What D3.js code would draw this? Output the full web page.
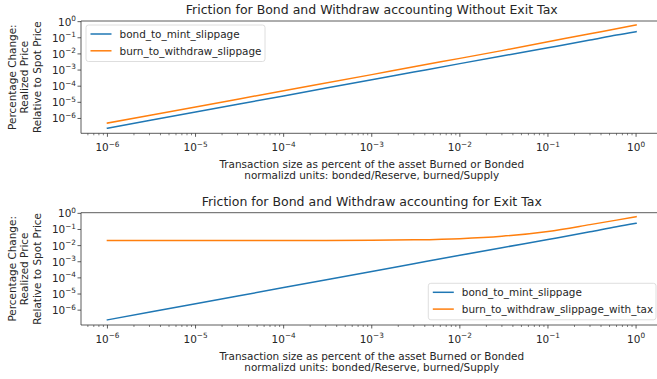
<!DOCTYPE html>
<html>
<head>
<meta charset="utf-8">
<script src="https://cdn.jsdelivr.net/npm/d3@7"></script>
<style>
  html, body { margin: 0; padding: 0; background: #fff; }
  svg { display: block; font-family: "DejaVu Sans", sans-serif; }
</style>
</head>
<body>
<svg id="chart" width="657" height="379"></svg>
<script>
// Transaction sizes (fraction of the asset burned or bonded)
const sizes = [1e-6, 1e-5, 1e-4, 1e-3, 3e-3, 1e-2, 3e-2, 1e-1, 3e-1, 6e-1, 1];
// Slippage series
const bondToMint = [2.5e-7, 2.5e-6, 2.5e-5, 2.5e-4, 7.5e-4, 2.5e-3, 7.4e-3, 0.024, 0.072, 0.15, 0.24];
const burnToWithdraw = [5.2e-7, 5.2e-6, 5.2e-5, 5.2e-4, 1.6e-3, 5.3e-3, 0.016, 0.056, 0.18, 0.36, 0.62];
const burnToWithdrawTax = [0.021, 0.021, 0.021, 0.0213, 0.0228, 0.027, 0.038, 0.076, 0.2, 0.38, 0.62];
// Tick exponents
const xTickExps = [-6, -5, -4, -3, -2, -1, 0];
const yTickExps = [0, -1, -2, -3, -4, -5, -6];

const titles = [
  "Friction for Bond and Withdraw accounting Without Exit Tax",
  "Friction for Bond and Withdraw accounting for Exit Tax"
];
const legendLabels = [
  ["bond_to_mint_slippage", "burn_to_withdraw_slippage"],
  ["bond_to_mint_slippage", "burn_to_withdraw_slippage_with_tax"]
];
const xLabelLines = [
  "Transaction size as percent of the asset Burned or Bonded",
  "normalizd units: bonded/Reserve, burned/Supply"
];
const yLabelLines = ["Percentage Change:", "Realized Price", "Relative to Spot Price"];

const BLUE = "#1f77b4", ORANGE = "#ff7f0e";
const FS = 10.45, FS_SUP = 7.3, FS_TITLE = 12.5;
const svg = d3.select("#chart");

const left = 81, right = 662.5, axH = 112.3;
const panels = [
  { top: 21, series: [bondToMint, burnToWithdraw], legend: { x: 86, y: 25, w: 179 } },
  { top: 212.7, series: [bondToMint, burnToWithdrawTax], legend: { x: 428.3, y: 283.3, w: 227.7 } }
];

const minus = "\u2212";

panels.forEach((p, i) => {
  const bottom = p.top + axH;
  const x = d3.scaleLog().domain([Math.pow(10, -6.3), Math.pow(10, 0.3)]).range([left, right]);
  const y = d3.scaleLog().domain([Math.pow(10, -6.92), Math.pow(10, 0.04)]).range([bottom, p.top]);
  const g = svg.append("g");

  // Lines
  const line = d3.line().x((d, k) => x(sizes[k])).y(d => y(d)).curve(d3.curveMonotoneX);
  p.series.forEach((vals, s) => {
    g.append("path").datum(vals)
      .attr("d", line)
      .attr("fill", "none")
      .attr("stroke", s === 0 ? BLUE : ORANGE)
      .attr("stroke-width", 1.5)
      .attr("stroke-linecap", "square");
  });

  // Spines (left, bottom, top; right edge lies outside the view)
  g.append("line").attr("x1", left).attr("x2", left).attr("y1", p.top).attr("y2", bottom)
    .attr("stroke", "#333").attr("stroke-width", 0.8);
  g.append("line").attr("x1", left).attr("x2", right).attr("y1", bottom).attr("y2", bottom)
    .attr("stroke", "#333").attr("stroke-width", 0.8);
  g.append("line").attr("x1", left).attr("x2", right).attr("y1", p.top).attr("y2", p.top)
    .attr("stroke", "#333").attr("stroke-width", 0.8);

  // X ticks: majors and log minors
  const minors = [];
  for (let e = -7; e <= 0; e++) for (let m = 2; m <= 9; m++) {
    const v = m * Math.pow(10, e);
    if (v >= x.domain()[0] && v <= x.domain()[1]) minors.push(v);
  }
  g.selectAll(null).data(minors).enter().append("line")
    .attr("x1", d => x(d)).attr("x2", d => x(d))
    .attr("y1", bottom).attr("y2", bottom + 2)
    .attr("stroke", "#333").attr("stroke-width", 0.6);
  g.selectAll(null).data(xTickExps).enter().append("line")
    .attr("x1", d => x(Math.pow(10, d))).attr("x2", d => x(Math.pow(10, d)))
    .attr("y1", bottom).attr("y2", bottom + 3.5)
    .attr("stroke", "#333").attr("stroke-width", 0.8);
  const xt = g.selectAll(null).data(xTickExps).enter().append("text")
    .attr("x", d => x(Math.pow(10, d)))
    .attr("y", bottom + 18)
    .attr("text-anchor", "middle")
    .attr("font-size", FS).attr("fill", "#262626");
  xt.append("tspan").text("10");
  xt.append("tspan").attr("dy", -4.6).attr("font-size", FS_SUP)
    .text(d => d === 0 ? "0" : minus + Math.abs(d));

  // Y ticks
  g.selectAll(null).data(yTickExps).enter().append("line")
    .attr("x1", left - 3.5).attr("x2", left)
    .attr("y1", d => y(Math.pow(10, d))).attr("y2", d => y(Math.pow(10, d)))
    .attr("stroke", "#333").attr("stroke-width", 0.8);
  const yt = g.selectAll(null).data(yTickExps).enter().append("text")
    .attr("x", left - 5)
    .attr("y", d => y(Math.pow(10, d)) + 4)
    .attr("text-anchor", "end")
    .attr("font-size", FS).attr("fill", "#262626");
  yt.append("tspan").text("10");
  yt.append("tspan").attr("dy", -4.6).attr("font-size", FS_SUP)
    .text(d => d === 0 ? "0" : minus + Math.abs(d));

  // Title
  g.append("text").attr("x", (left + right) / 2).attr("y", p.top - 7)
    .attr("text-anchor", "middle").attr("font-size", FS_TITLE).attr("fill", "#262626")
    .text(titles[i]);

  // X label
  xLabelLines.forEach((t, k) => {
    g.append("text").attr("x", (left + right) / 2).attr("y", bottom + 35 + k * 10.5)
      .attr("text-anchor", "middle").attr("font-size", FS).attr("fill", "#262626")
      .text(t);
  });

  // Y label
  const cy = (p.top + bottom) / 2;
  yLabelLines.forEach((t, k) => {
    g.append("text")
      .attr("transform", `translate(${15.5 + k * 12.5},${cy}) rotate(-90)`)
      .attr("text-anchor", "middle").attr("font-size", FS).attr("fill", "#262626")
      .text(t);
  });

  // Legend
  const L = p.legend;
  const lg = g.append("g");
  lg.append("rect").attr("x", L.x).attr("y", L.y).attr("width", L.w).attr("height", 36.5)
    .attr("rx", 2.5).attr("fill", "#fff").attr("fill-opacity", 0.8)
    .attr("stroke", "#d6d6d6").attr("stroke-width", 0.8);
  legendLabels[i].forEach((lab, k) => {
    const ry = L.y + 9 + k * 16.8;
    lg.append("line").attr("x1", L.x + 4.5).attr("x2", L.x + 25.5)
      .attr("y1", ry).attr("y2", ry)
      .attr("stroke", k === 0 ? BLUE : ORANGE).attr("stroke-width", 1.5);
    lg.append("text").attr("x", L.x + 33.5).attr("y", ry + 3.7)
      .attr("font-size", FS).attr("fill", "#262626").text(lab);
  });
});
</script>
</body>
</html>
